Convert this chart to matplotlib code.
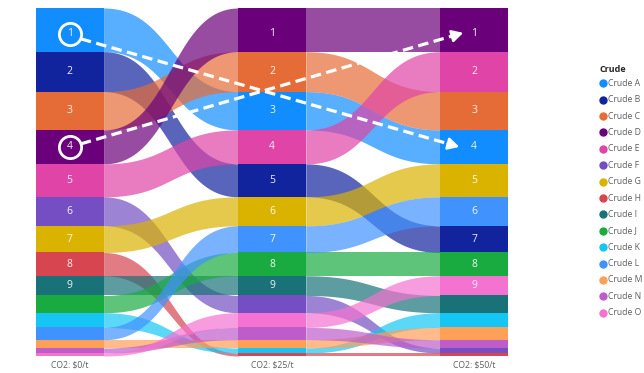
import matplotlib
matplotlib.use('Agg')
import matplotlib.pyplot as plt
import numpy as np
from matplotlib.lines import Line2D
from matplotlib.transforms import IdentityTransform

plt.rcParams['font.family'] = ['Open Sans', 'DejaVu Sans']

# ---------------- data ----------------
series = ['Crude A', 'Crude B', 'Crude C', 'Crude D', 'Crude E', 'Crude F', 'Crude G',
          'Crude H', 'Crude I', 'Crude J', 'Crude K', 'Crude L', 'Crude M', 'Crude N', 'Crude O']
colors = ['#118DFF', '#12239E', '#E66C37', '#6B007B', '#E044A7', '#744EC2', '#D9B300',
          '#D64550', '#197278', '#1AAB40', '#15C6F4', '#4092FF', '#FFA058', '#BE5DC9', '#F472D0']
columns = ['CO2: $0/t', 'CO2: $25/t', 'CO2: $50/t']
# values per series (A..O) for each scenario
vals_0 = [43.7, 40.0, 38.3, 34.0, 33.0, 29.0, 26.7, 23.3, 19.7, 17.3, 14.7, 12.3, 8.3, 5.0, 3.0]
vals_25 = [38.3, 33.0, 40.0, 43.7, 34.0, 17.3, 29.0, 3.0, 19.7, 23.3, 5.0, 26.7, 8.3, 12.3, 14.7]
vals_50 = [34.0, 26.7, 38.3, 43.7, 40.0, 5.0, 33.0, 3.0, 17.3, 23.3, 14.7, 29.0, 12.3, 8.3, 19.7]
table = [vals_0, vals_25, vals_50]

n = len(series)
ncol = len(columns)

# stacked positions (largest on top)
tops = np.zeros((ncol, n))
bots = np.zeros((ncol, n))
ranks = np.zeros((ncol, n), dtype=int)
for j, vals in enumerate(table):
    order = np.argsort(vals)[::-1]
    y = 0.0
    for r, i in enumerate(order):
        tops[j, i] = y
        y += vals[i]
        bots[j, i] = y
        ranks[j, i] = r + 1
total = max(sum(v) for v in table)

# ---------------- figure ----------------
W, H = 644, 373
fig = plt.figure(figsize=(W / 100, H / 100), dpi=100)
ax = fig.add_axes([36 / W, 17 / H, 472 / W, 348 / H])
hw = 0.1671
ax.set_xlim(-hw, ncol - 1 + hw)
ax.set_ylim(total, 0)
ax.axis('off')

# ribbons
t = np.linspace(0, 1, 200)
xs = 1.5 * t * (1 - t) + t ** 3
ys = 3 * t ** 2 - 2 * t ** 3
for j in range(ncol - 1):
    x0, x1 = j + hw, j + 1 - hw
    x = x0 + (x1 - x0) * xs
    for i in range(n):
        top = tops[j, i] + (tops[j + 1, i] - tops[j, i]) * ys
        bot = bots[j, i] + (bots[j + 1, i] - bots[j, i]) * ys
        ax.fill_between(x, top, bot, color=colors[i], alpha=0.7, lw=0)

# bars
for j in range(ncol):
    for i in range(n):
        ax.bar(j, bots[j, i] - tops[j, i], bottom=tops[j, i], width=2 * hw,
               color=colors[i], lw=0)
        if ranks[j, i] <= 9:
            cy = (tops[j, i] + bots[j, i]) / 2
            if ranks[j, i] == 1:
                cy += 4
            ax.text(j, cy, str(ranks[j, i]), color='white',
                    ha='center', va='center', fontsize=7.5, alpha=0.92)
    ax.text(j, total + 9, columns[j], ha='center', va='center', fontsize=6.2,
            color='#605E5C', clip_on=False)

# annotations: circles + dashed arrows
def centre(j, rank):
    i = list(ranks[j]).index(rank)
    cy = (tops[j, i] + bots[j, i]) / 2
    if rank == 1:
        cy += 4
    return j, cy

for rank in (1, 4):
    cx, cy = centre(0, rank)
    ax.plot(cx, cy, 'o', ms=16, mfc='none', mec='white', mew=2)

def dashed_arrow(start_rank, end_rank, soff, eoff):
    p0 = np.array(ax.transData.transform(centre(0, start_rank))) + np.array(soff)
    p1 = np.array(ax.transData.transform(centre(ncol - 1, end_rank))) + np.array(eoff)
    d = (p1 - p0) / np.linalg.norm(p1 - p0)
    pe = p1 - d * 9
    ax.plot([p0[0], pe[0]], [p0[1], pe[1]], color='white', lw=2.3,
            dashes=(3.3, 1.7), transform=IdentityTransform(), solid_capstyle='butt')
    ax.annotate('', xy=tuple(p1), xytext=tuple(p1 - d * 12), xycoords='figure pixels',
                textcoords='figure pixels',
                arrowprops=dict(arrowstyle='-|>,head_length=0.55,head_width=0.3',
                                color='white', lw=1.8, mutation_scale=12,
                                shrinkA=0, shrinkB=0))

dashed_arrow(1, 4, (11, -5), (-15, 0))
dashed_arrow(4, 1, (11, 3), (-11, 1))

# legend
fig.text(600 / W, 1 - 70 / H, 'Crude', fontsize=6.5, fontweight='bold', color='#252423',
         ha='left', va='center')
for k, (name, c) in enumerate(zip(series, colors)):
    yy = 1 - (83.3 + k * 16.39) / H
    fig.add_artist(Line2D([602.5 / W], [yy], marker='o', ms=5.0, color=c, lw=0,
                          transform=fig.transFigure))
    fig.text(607.5 / W, yy, name, fontsize=6.2, color='#605E5C', ha='left', va='center')

fig.savefig('out.png', dpi=100)
